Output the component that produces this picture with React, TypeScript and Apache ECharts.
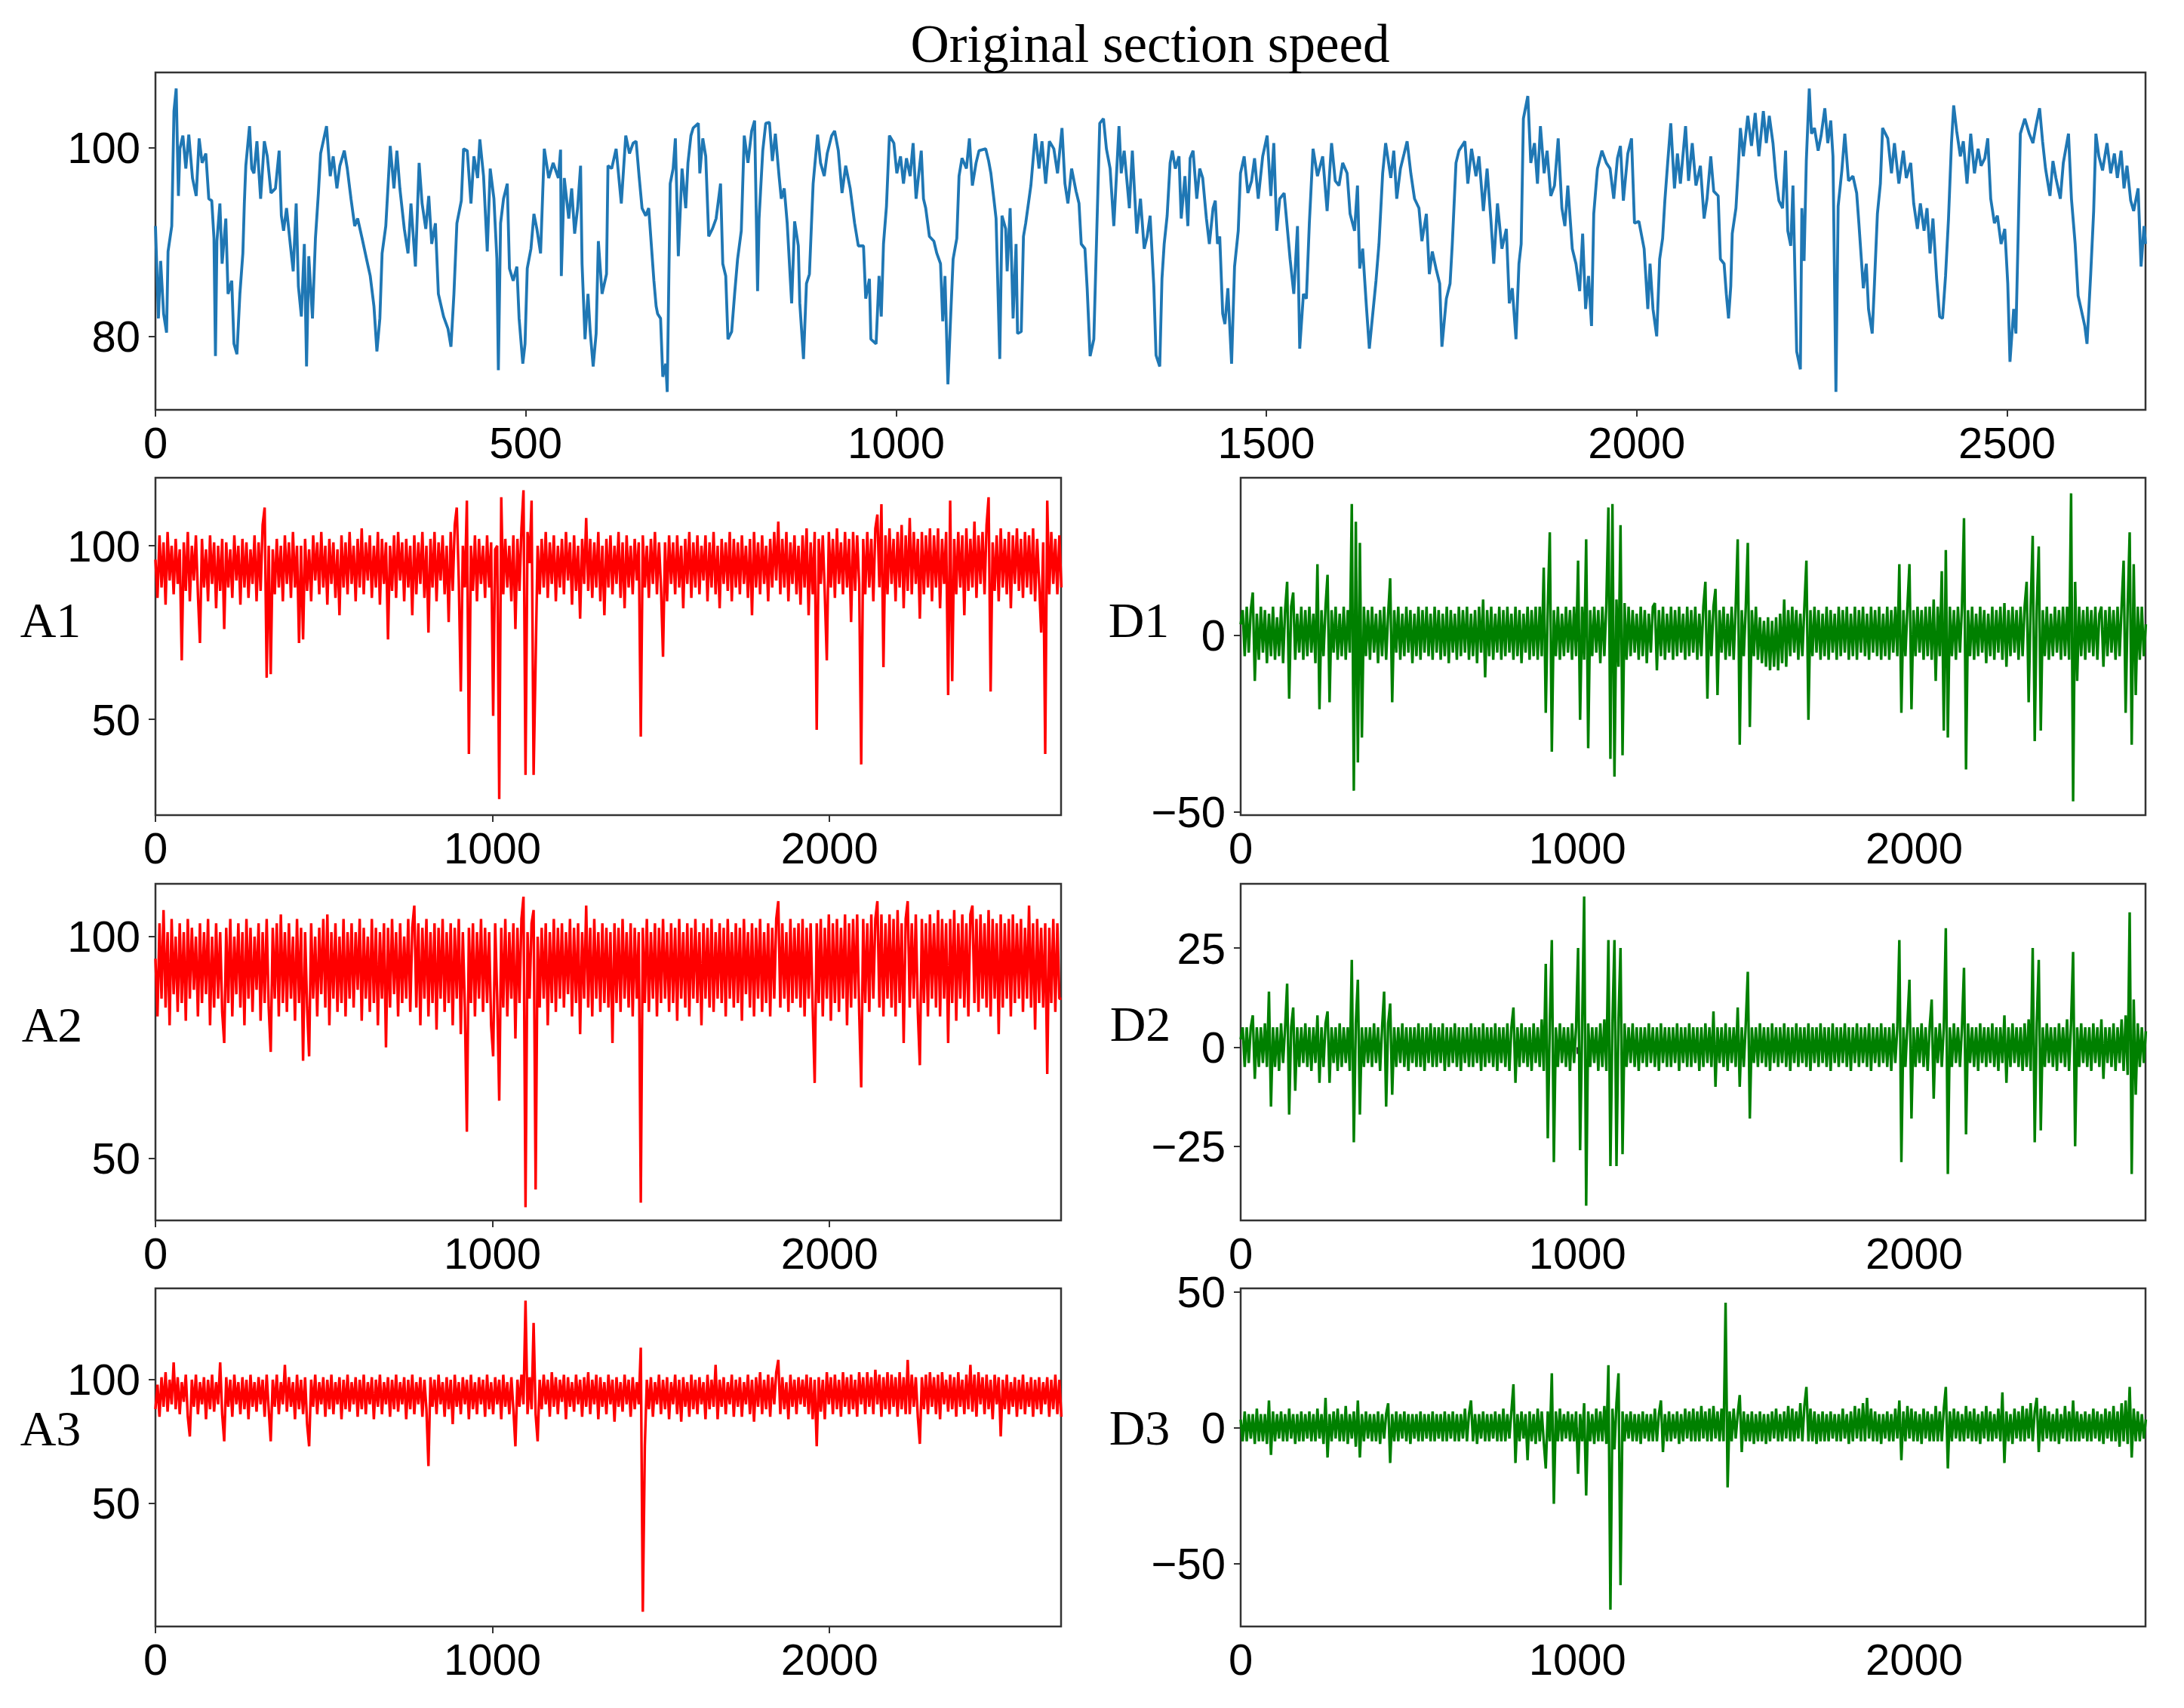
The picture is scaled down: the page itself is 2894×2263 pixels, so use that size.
import React, { useEffect, useRef } from 'react';
import * as echarts from 'echarts';

// ---------- data ----------
const STEP = 6; // sample spacing (index units) of the decomposition series

const speedPts: number[][] = [
[0,91.7],[4,81.9],[7,88.0],[11,82.4],[15,80.4],[17,89.0],[22,91.7],[25,103.9],[28,106.3],[31,94.9],[33,99.9],[37,101.3],[41,97.8],[45,101.4],[50,96.8],[55,94.9],[59,101.0],[63,98.4],[68,99.4],[72,94.6],[76,94.4],[79,90.4],[81,77.9],[83,90.1],[87,94.1],[90,87.7],[95,92.5],[98,84.5],[103,85.9],[106,79.2],[110,78.1],[114,84.5],[118,88.8],[120,94.1],[122,98.1],[127,102.3],[130,97.8],[133,97.3],[137,100.7],[142,94.6],[147,100.7],[151,99.1],[156,95.2],[162,95.7],[167,99.7],[170,92.8],[173,91.2],[177,93.6],[182,89.8],[186,86.9],[190,94.1],[193,85.3],[197,82.1],[201,89.8],[204,76.8],[207,88.5],[212,81.9],[216,90.4],[220,95.2],[223,99.4],[231,102.3],[236,97.0],[240,99.1],[245,95.7],[249,98.1],[255,99.7],[259,97.8],[264,94.6],[269,91.7],[273,92.5],[279,90.4],[285,88.2],[290,86.4],[295,83.2],[299,78.4],[303,81.9],[306,88.8],[311,91.7],[317,100.2],[322,95.7],[326,99.7],[330,95.7],[336,91.4],[341,88.8],[345,94.1],[351,87.4],[356,98.4],[360,94.1],[365,91.4],[369,94.9],[373,89.8],[378,92.0],[382,84.5],[389,82.1],[395,80.8],[399,78.9],[403,84.5],[407,92.0],[413,94.4],[416,99.9],[421,99.7],[426,94.1],[430,99.1],[435,96.8],[438,100.9],[443,97.0],[448,89.0],[452,97.8],[457,94.6],[461,88.2],[463,76.4],[466,92.0],[470,94.6],[475,96.2],[478,87.2],[483,85.9],[488,87.4],[491,81.9],[496,77.1],[499,79.2],[502,87.2],[507,89.3],[511,93.0],[515,91.4],[520,88.8],[525,99.9],[531,96.8],[537,98.4],[544,96.8],[547,99.8],[548,86.4],[552,96.8],[558,92.5],[562,95.7],[566,90.9],[570,93.6],[574,98.1],[576,87.7],[580,79.7],[584,84.5],[587,80.5],[591,76.8],[595,80.3],[598,90.1],[603,84.5],[609,86.6],[611,98.1],[616,97.8],[622,99.9],[629,94.1],[635,101.3],[640,99.4],[645,100.5],[649,100.7],[653,97.0],[657,93.6],[662,92.8],[666,93.6],[673,85.9],[676,83.2],
[678,82.4],[682,81.9],[685,75.7],[689,77.1],[691,74.1],[695,96.2],[699,97.8],[702,101.0],[706,88.5],[711,97.8],[716,93.6],[719,98.4],[723,101.3],[726,102.1],[733,102.6],[735,97.3],[739,101.0],[743,99.1],[747,90.6],[752,91.4],[757,92.5],[763,96.2],[766,87.7],[770,86.4],[773,79.7],[778,80.5],[782,84.5],[786,88.2],[791,91.2],[795,101.3],[800,98.4],[805,101.8],[809,102.9],[813,84.8],[815,92.5],[820,99.7],[824,102.6],[829,102.7],[833,98.6],[837,101.5],[842,97.0],[845,94.6],[849,95.7],[853,92.0],[859,83.5],[863,92.2],[868,89.6],[870,83.5],[875,77.6],[879,85.6],[883,86.6],[888,96.2],[894,101.4],[898,98.4],[903,97.0],[907,99.4],[913,101.3],[917,101.8],[922,99.7],[927,95.2],[932,98.1],[938,95.7],[944,92.0],[949,89.6],[956,89.6],[959,84.0],[964,86.1],[966,79.7],[973,79.2],[977,86.4],[980,82.1],[983,89.8],[987,93.8],[991,101.3],[997,100.5],[1001,97.3],[1006,99.1],[1010,96.2],[1014,98.9],[1019,97.0],[1023,100.5],[1027,94.6],[1034,99.7],[1037,94.6],[1040,93.6],[1045,90.6],[1051,90.1],[1055,88.8],[1060,87.7],[1063,81.6],[1066,86.4],[1070,74.9],[1073,80.8],[1077,88.2],[1082,90.4],[1085,97.0],[1089,98.9],[1095,97.8],[1099,101.0],[1103,96.0],[1108,98.4],[1112,99.7],[1121,99.9],[1125,98.6],[1128,97.3],[1132,94.6],[1135,92.5],[1140,77.6],[1143,92.8],[1148,91.4],[1150,86.9],[1154,93.6],[1158,81.9],[1162,89.8],[1164,80.3],[1169,80.5],[1172,90.6],[1175,92.0],[1182,96.0],[1188,101.5],[1193,97.8],[1197,100.7],[1202,96.2],[1207,100.7],[1213,99.9],[1218,97.3],[1224,102.1],[1228,96.2],[1232,94.1],[1237,97.8],[1243,95.4],[1247,94.1],[1250,89.8],[1255,89.3],[1258,85.1],[1262,77.9],[1267,79.7],[1271,91.2],[1275,102.6],[1280,103.1],[1284,99.9],[1289,97.8],[1294,91.7],[1301,102.3],[1304,97.3],[1308,99.7],[1315,93.6],[1319,99.7],[1325,90.9],[1330,94.6],[1335,89.3],[1339,90.6],[1343,92.8],[1348,85.3],
[1351,78.0],[1356,76.8],[1359,86.1],[1362,89.8],[1366,92.8],[1370,98.4],[1373,99.7],[1377,97.8],[1382,99.1],[1385,92.5],[1390,97.0],[1394,91.7],[1397,98.9],[1401,99.7],[1406,94.6],[1410,97.8],[1414,96.8],[1419,92.5],[1423,89.8],[1428,93.6],[1431,94.4],[1434,89.8],[1437,90.6],[1441,82.4],[1444,81.3],[1448,85.1],[1453,77.1],[1457,87.4],[1462,91.2],[1465,97.3],[1470,99.1],[1475,95.2],[1480,96.5],[1484,98.9],[1489,94.6],[1495,99.1],[1501,101.3],[1506,94.9],[1510,100.5],[1514,91.2],[1518,94.6],[1524,95.2],[1528,91.7],[1532,88.2],[1537,84.5],[1542,91.7],[1545,78.7],[1550,84.5],[1554,84.0],[1558,92.0],[1563,99.9],[1569,97.0],[1576,99.1],[1582,93.3],[1588,100.5],[1593,96.5],[1598,96.0],[1603,98.4],[1609,97.3],[1613,93.0],[1619,91.2],[1623,96.0],[1626,87.2],[1630,89.3],[1635,83.2],[1639,78.7],[1643,81.9],[1648,85.9],[1652,89.8],[1657,97.3],[1661,100.5],[1668,96.8],[1672,99.7],[1676,94.6],[1681,97.8],[1686,99.4],[1690,100.7],[1695,97.3],[1700,94.6],[1706,93.6],[1710,90.1],[1716,93.0],[1720,86.6],[1724,89.0],[1729,87.2],[1734,85.6],[1737,78.9],[1743,84.0],[1748,85.6],[1751,89.8],[1756,98.4],[1760,99.7],[1768,100.7],[1772,96.2],[1777,99.9],[1783,97.0],[1787,99.1],[1793,93.3],[1798,97.8],[1803,92.5],[1807,87.7],[1812,94.1],[1818,89.3],[1824,91.4],[1828,83.5],[1832,85.1],[1837,79.7],[1841,87.7],[1844,89.8],[1847,103.1],[1853,105.5],[1857,98.4],[1862,100.5],[1866,96.2],[1870,102.3],[1875,97.3],[1879,99.7],[1884,94.9],[1889,96.0],[1894,101.0],[1899,93.6],[1903,91.7],[1907,96.0],[1913,89.3],[1918,87.7],[1923,84.8],[1927,90.9],[1931,82.9],[1935,86.4],[1939,81.1],[1942,93.0],[1947,97.8],[1953,99.7],[1959,98.4],[1964,97.8],[1969,94.6],[1974,98.9],[1978,100.2],[1982,94.4],[1988,99.4],[1993,101.0],[1997,92.0],[2003,92.2],[2010,89.3],
[2015,82.9],[2018,87.7],[2022,82.9],[2027,80.0],[2031,88.2],[2035,90.4],[2038,94.4],[2042,98.6],[2046,102.6],[2051,95.7],[2055,99.4],[2059,96.2],[2066,102.3],[2070,96.5],[2075,100.5],[2080,96.0],[2086,98.1],[2091,92.5],[2095,94.6],[2100,99.1],[2104,95.4],[2110,94.9],[2113,88.2],[2118,87.7],[2121,84.5],[2124,81.9],[2127,85.3],[2129,90.9],[2134,93.6],[2137,97.6],[2140,102.1],[2144,99.1],[2150,103.4],[2155,100.2],[2160,103.7],[2165,99.1],[2171,103.9],[2175,100.5],[2179,103.4],[2184,100.5],[2188,96.8],[2192,94.4],[2197,93.6],[2201,99.7],[2204,91.2],[2208,89.6],[2211,96.0],[2216,78.4],[2221,76.5],[2223,93.6],[2226,88.0],[2229,98.6],[2233,106.3],[2236,101.5],[2240,102.1],[2245,99.7],[2249,101.3],[2254,104.2],[2258,100.5],[2262,102.9],[2265,99.1],[2269,74.1],[2272,93.8],[2277,97.6],[2281,101.5],[2286,96.5],[2292,97.0],[2297,95.2],[2300,92.0],[2306,85.1],[2310,87.7],[2313,82.9],[2318,80.3],[2321,85.6],[2325,93.0],[2329,96.2],[2332,102.1],[2339,101.0],[2344,97.3],[2348,100.5],[2354,96.2],[2360,99.7],[2364,96.8],[2370,98.4],[2374,94.1],[2379,91.4],[2383,94.1],[2388,91.2],[2392,93.6],[2396,88.8],[2400,92.5],[2405,86.1],[2409,82.1],[2413,81.9],[2417,86.4],[2421,92.5],[2425,100.5],[2428,104.5],[2432,101.8],[2437,99.1],[2441,100.7],[2446,96.2],[2451,101.5],[2456,97.3],[2461,99.9],[2465,98.1],[2470,98.9],[2474,101.0],[2478,94.6],[2483,92.0],[2487,92.8],[2492,89.8],[2497,91.4],[2501,85.6],[2504,77.3],[2509,82.9],[2512,80.3],[2515,90.6],[2518,101.5],[2524,103.1],[2530,101.5],[2535,100.5],[2539,102.3],[2544,104.2],[2548,100.7],[2552,97.8],[2558,94.9],[2562,98.6],[2566,96.8],[2572,94.6],[2576,98.4],[2583,101.5],[2587,94.6],[2592,89.8],[2596,84.3],[2600,82.9],[2605,81.1],[2608,79.2],[2613,86.6],[2617,93.3],[2620,101.5],[2624,99.1],[2629,97.6],[2635,100.5],[2640,97.3],[2645,99.4],[2649,96.8],[2654,99.7],[2658,95.7],[2662,98.1],[2667,94.4],[2671,93.3],[2677,95.7],[2681,87.4],[2685,91.7],[2687,89.8]
];

const a1 = [
96,85,103,88,101,83,104,90,100,86,102,89,99,67,101,87,104,84,100,90,103,86,72,102,88,99,84,103,89,101,82,100,
87,102,76,101,88,99,85,103,90,100,83,102,88,101,85,99,89,103,84,101,87,106,111,62,100,63,99,86,102,88,100,84,
103,89,101,85,104,88,100,72,100,73,102,87,99,84,103,90,101,86,104,88,100,83,102,89,101,85,99,80,103,88,101,86,
104,89,100,84,102,88,105,86,101,90,103,85,100,88,104,83,102,89,101,73,100,87,103,85,104,90,101,84,102,88,100,80,
103,86,101,89,104,85,100,75,102,88,104,84,101,90,103,86,100,78,104,87,106,111,90,58,100,88,113,40,100,87,103,84,
102,89,100,85,103,88,101,51,99,100,27,114,86,102,88,100,84,103,76,102,87,105,116,34,104,95,113,34,67,100,86,102,
88,104,85,101,89,103,84,100,88,102,86,104,90,101,83,103,87,100,79,102,89,108,87,102,85,101,88,104,84,100,80,102,
88,103,86,100,89,104,85,101,82,103,88,100,86,102,90,101,45,103,88,100,85,102,89,104,86,101,88,68,101,84,103,89,
101,86,103,88,100,82,102,89,104,85,101,88,103,86,100,90,103,84,101,88,104,86,100,82,102,89,101,87,104,84,102,88,
101,86,103,89,100,85,102,80,104,88,101,86,103,89,100,84,102,88,104,90,107,86,102,88,104,84,101,89,103,86,100,83,
103,88,105,80,101,86,104,47,102,89,103,86,67,104,88,102,85,105,89,101,86,104,88,102,78,104,87,103,89,37,102,86,
104,88,102,84,105,109,88,112,65,103,86,105,89,102,84,104,88,106,82,103,87,108,86,104,89,102,79,104,86,103,88,105,
84,103,88,105,82,102,89,104,57,113,61,102,86,104,88,103,80,105,87,102,88,107,85,103,89,104,86,106,114,58,101,87,
103,84,105,88,102,86,104,82,103,89,105,87,102,85,104,88,103,86,105,84,102,89,75,101,40,113,86,104,89,102,86,103,
88
];

const d1 = [
3,7,-6,8,-5,7,12,-13,6,-7,8,-5,7,-8,6,-6,8,-7,5,-6,8,-8,7,15,-18,8,12,-7,6,-5,8,-7,
7,-6,8,-5,6,-8,20,-21,7,-6,8,17,-19,7,-5,8,-7,6,-6,8,-7,7,-5,37,-44,32,-36,26,-29,8,-6,7,
-7,8,-5,6,-8,7,-6,8,-7,6,16,-19,7,-5,8,-7,6,-6,8,-5,7,-8,6,-6,8,-7,7,-5,8,-6,6,-7,
8,-5,7,-7,6,-6,8,-8,7,-5,6,-7,8,-6,7,-5,8,-7,6,-6,7,-8,8,-5,10,-12,7,-6,8,-7,6,-5,
8,-7,7,-6,8,-5,6,-7,8,-6,7,-8,6,-5,8,-7,7,-6,8,-7,8,-6,19,-22,8,29,-33,7,-6,8,-7,6,
-6,8,-5,7,-7,8,-6,21,-24,8,-7,27,-32,7,-6,8,-5,7,-8,8,-6,9,36,-35,37,-40,10,-9,31,-34,9,-7,
8,-6,7,-5,6,-7,8,-6,7,-8,6,-5,8,9,-10,7,-6,8,-7,6,-5,8,-7,7,-6,8,-5,6,-7,8,-6,7,
-5,8,-7,6,-6,8,15,-18,7,-6,8,13,-17,7,-5,8,-7,6,-6,8,-7,8,27,-31,7,-6,8,26,-26,7,-6,8,
-7,5,-8,4,-9,5,-10,4,-9,5,-10,6,-8,10,-9,7,-6,8,-5,7,-7,6,-6,8,21,-24,7,-6,8,-5,7,-7,
6,-6,8,-7,7,-5,6,-7,8,-6,7,-5,8,-7,6,-6,8,-7,7,-5,8,-6,6,-7,8,-5,7,-6,8,-7,6,-6,
8,-7,7,-5,8,-6,20,-22,7,-6,8,20,-21,7,-6,8,-5,7,-7,8,-6,8,-7,10,-13,8,-6,18,-27,24,-29,8,
-6,7,-7,8,-5,8,33,-38,7,-6,8,-7,6,-6,8,-5,7,-8,6,-6,8,-7,7,-5,8,-7,9,-9,7,-6,8,-5,
7,-7,8,-6,8,15,-19,8,28,-30,8,25,-27,7,-6,8,-7,6,-6,8,-5,7,-7,8,-6,8,-7,40,-47,15,-13,8,
-6,7,-7,8,-5,7,-6,8,-7,6,8,-9,7,-6,8,-5,7,-7,8,-6,8,21,-22,8,29,-31,20,-17,8,-7,8,-6,
3
];

const a2 = [
95,82,103,86,106,84,101,80,104,87,100,83,103,85,101,81,104,86,102,88,100,82,103,85,101,87,104,80,100,84,103,86,
101,83,76,102,85,104,82,100,87,103,84,101,80,104,86,102,83,100,88,103,81,101,85,104,84,74,102,86,103,82,105,85,
101,83,103,86,100,81,104,85,102,72,101,84,73,103,86,100,82,102,87,104,84,105,80,101,86,103,83,100,85,104,82,101,
86,103,84,101,88,104,81,102,86,100,83,104,85,102,80,101,86,103,75,102,84,104,87,101,82,103,85,100,86,104,83,102,
107,84,103,80,102,86,104,82,101,85,103,79,102,86,104,83,101,85,103,80,102,86,104,78,101,84,56,102,85,103,82,101,
86,104,83,102,85,101,80,73,103,86,63,102,84,104,82,101,86,103,77,102,85,104,109,39,101,86,103,106,43,100,84,102,
86,103,80,101,85,104,83,102,86,103,84,101,87,104,82,102,85,103,78,101,86,107,84,102,82,104,86,101,83,103,85,102,
84,101,76,103,85,102,83,104,86,101,84,103,82,102,86,101,40,102,85,104,83,101,86,103,82,102,85,104,86,101,83,103,
85,102,81,104,86,101,84,103,82,102,86,104,85,101,80,103,86,102,84,104,83,101,86,103,85,102,82,104,86,101,84,103,
85,102,81,104,87,101,84,103,82,102,86,104,83,101,85,103,82,102,86,104,108,84,103,86,101,83,104,85,102,86,103,84,
104,82,102,86,103,84,67,103,85,104,82,102,86,105,81,103,85,104,83,102,86,105,80,103,84,104,86,105,83,66,104,85,
103,83,105,86,104,108,84,105,82,103,86,105,84,104,82,106,85,103,76,104,108,84,103,86,105,83,71,104,85,103,82,105,
86,103,84,106,82,104,86,103,76,104,85,106,81,103,86,105,84,103,82,105,107,85,104,83,105,86,103,84,106,82,104,86,
103,78,105,84,103,86,104,82,105,85,103,86,104,83,102,86,107,84,103,79,104,85,102,84,103,69,102,85,104,83,103,86,
86
];

const d2 = [
2,5,-5,5,-4,5,8,-8,5,-5,5,-4,6,-5,14,-15,5,-5,5,-6,6,-4,5,16,-17,5,10,-11,5,-5,5,-4,
6,-5,5,-6,5,-4,8,-9,5,-5,6,9,-9,5,-4,5,-6,6,-5,5,-4,5,-6,22,-24,6,17,-17,5,-5,5,-4,
5,-5,6,-4,5,-6,5,14,-15,6,11,-12,5,-5,5,-4,6,-5,5,-6,5,-4,5,-5,6,-5,5,-6,5,-4,6,-5,
5,-5,5,-4,6,-6,5,-5,5,-4,6,-5,5,-6,5,-4,5,-5,6,-5,5,-4,5,-6,6,-5,5,-4,5,-5,6,-6,
5,-4,5,-5,6,-6,5,10,-9,5,-5,6,-4,5,-5,5,-6,6,-4,5,-5,7,-6,21,-23,6,27,-29,5,-5,6,-4,
5,-5,5,-6,6,-4,5,25,-26,5,38,-40,6,-5,5,-4,5,-6,6,-5,7,-6,27,-30,6,27,-30,7,25,-27,6,-5,
5,-4,6,-5,5,-6,5,-4,5,-5,6,-4,5,-5,5,-6,6,-4,5,-5,5,-5,5,-4,6,-6,5,-4,5,-5,6,-5,
5,-4,5,-6,5,-5,6,-4,5,-5,9,-10,5,-4,5,-5,6,-6,5,-4,5,-5,10,-10,5,-5,6,19,-18,5,-4,5,
-5,6,-4,5,-5,5,-6,6,-4,5,-5,5,-4,6,-5,5,-6,5,-4,6,-5,5,-4,5,-5,6,-6,5,-4,5,-5,6,
-4,5,-5,5,-6,6,-4,5,-5,5,-4,6,-5,5,-6,5,-4,6,-5,5,-4,5,-5,6,-6,5,-4,5,-5,6,-4,5,
-5,5,-6,6,-4,5,27,-29,5,-5,6,17,-18,5,-5,5,-4,6,-5,5,-6,5,12,-13,5,-4,6,-5,5,30,-32,5,
-5,6,-4,5,-5,5,20,-22,6,-4,5,-5,5,-6,6,-4,5,-5,5,-4,6,-5,5,-6,5,-4,8,-9,5,-5,6,-4,
5,-5,5,-6,6,-5,7,-6,25,-24,6,22,-21,5,-5,6,-4,5,-5,5,-6,6,-4,5,-5,7,-6,6,24,-25,5,-5,
6,-4,5,-5,5,-6,6,-4,5,-5,7,-8,5,-4,5,-5,6,-6,5,-4,7,-6,8,-7,34,-32,12,-12,6,-5,5,-4,
4
];

const a3 = [
88,98,85,101,89,103,87,100,90,107,88,101,86,99,91,102,85,77,100,89,102,86,99,90,101,84,100,88,102,87,99,90,
107,86,75,101,89,100,85,102,90,99,86,101,88,100,84,102,89,99,87,101,90,100,85,102,88,75,100,89,102,86,99,90,
106,87,101,89,99,84,102,88,100,86,101,82,73,100,89,102,86,99,90,101,85,100,88,102,86,99,90,101,84,100,88,102,
87,99,90,101,85,100,88,102,86,99,90,101,84,100,89,102,86,99,90,101,85,100,88,102,87,99,90,101,84,100,88,102,
86,99,90,101,85,100,88,65,101,89,100,86,102,90,99,85,101,88,100,82,102,89,99,86,101,90,100,84,102,88,99,86,
101,90,100,85,102,88,99,86,101,90,100,84,102,89,99,86,101,88,73,100,89,102,90,132,86,101,88,123,86,75,100,88,
102,90,100,85,103,89,101,86,100,91,102,84,101,89,99,87,102,90,100,85,101,89,103,86,100,90,102,84,101,89,99,86,
102,90,100,83,101,89,99,87,102,90,100,85,101,88,99,90,113,6,73,100,88,101,85,99,90,102,86,100,88,101,84,99,
90,102,86,100,83,101,89,99,85,102,88,100,86,101,90,99,84,102,88,100,89,106,84,100,89,101,86,99,90,102,85,100,
89,101,85,99,90,102,86,100,83,101,89,103,86,100,88,102,85,101,90,103,108,86,101,88,99,84,102,89,100,86,101,90,
100,89,102,86,101,84,100,73,101,87,100,84,103,90,101,86,102,88,100,85,103,89,101,86,102,88,100,85,103,90,101,86,
103,89,101,86,104,90,102,85,101,88,103,86,102,89,101,85,103,88,101,86,108,86,102,89,101,85,74,101,88,102,86,103,
89,101,86,102,84,103,90,100,87,102,88,101,85,103,89,100,86,102,88,106,87,102,85,103,90,101,86,102,88,100,84,102,
90,101,77,100,88,102,86,99,89,101,85,100,88,102,86,99,89,101,85,100,88,101,86,99,90,101,85,100,88,102,86,100,
85
];

const d3 = [
3,-5,6,-5,5,-4,5,-6,7,-5,5,-5,5,-6,10,-10,6,-5,5,-4,6,-5,5,-5,7,-4,5,-6,5,-5,6,-5,
5,-4,6,-5,5,-5,7,-4,5,-6,11,-11,5,-5,6,-4,7,-5,5,-5,8,-6,5,-4,6,-7,10,-11,5,-5,6,-4,
5,-5,5,-5,6,-6,5,-4,5,9,-13,5,-5,6,-5,5,-4,6,-5,5,-6,5,-4,5,-5,6,-5,5,-4,5,-5,6,
-5,5,-4,5,-5,6,-5,5,-4,6,-5,5,-5,5,-4,7,-5,5,10,-5,5,-6,5,-4,6,-5,5,-5,5,-4,6,-5,
5,-5,7,-5,5,-4,6,16,-13,5,-5,6,-4,5,-12,6,-5,5,-6,7,-5,6,-5,-15,6,-5,20,-28,6,-5,7,-5,
5,-4,6,-5,5,-5,6,-17,5,-5,9,-25,6,-5,5,-6,7,-5,6,-5,8,-6,23,-67,7,-8,9,20,-58,6,-5,5,
-4,6,-5,5,-5,5,-6,6,-4,5,-5,5,-5,7,-5,5,10,-9,5,-5,6,-5,5,-4,6,-6,5,-5,7,-4,6,-5,
7,-5,6,-5,8,-4,6,-5,7,-5,8,-4,6,-5,7,-5,46,-22,6,-5,7,-4,5,12,-9,6,-5,5,-5,6,-6,5,
-5,6,-5,5,-6,5,-5,6,-4,7,-5,5,-5,6,-4,8,-5,7,-5,6,-4,9,-5,8,15,-5,7,-5,6,-6,5,-5,
6,-5,5,-5,6,-4,5,-5,5,-5,7,-4,5,-6,6,-5,8,-4,7,-5,9,-5,11,-4,7,-5,6,-5,5,-6,5,-4,
6,-5,5,-5,7,-4,10,-12,6,-5,8,-4,7,-5,6,-5,5,-6,7,-4,6,-5,5,-5,8,-5,6,-5,7,15,-15,6,
-5,7,-4,6,-5,5,-5,8,-4,6,-5,7,-5,5,-6,6,-4,8,-5,6,-5,5,-4,7,-5,13,-13,6,-5,5,-6,7,
-4,6,-5,8,-5,7,-4,9,-5,6,11,-9,7,-5,8,-4,6,-5,5,-5,7,-6,5,-4,8,-5,6,-5,10,-5,6,-5,
5,-4,6,-5,5,-5,7,-4,6,-5,5,-6,7,-4,6,-5,8,-5,6,-7,9,-5,10,-6,15,-11,7,-5,6,-5,5,-4,
3
];

const xTicksTop = [0, 500, 1000, 1500, 2000, 2500];
const xTicksSub = [0, 1000, 2000];
const yTicksTop = [80, 100];
const yTicksA1 = [50, 100];
const yTicksD1 = [-50, 0];
const yTicksA2 = [50, 100];
const yTicksD2 = [-25, 0, 25];
const yTicksA3 = [50, 100];
const yTicksD3 = [-50, 0, 50];

const TITLE = 'Original section speed';
const panelNames = ['A1', 'D1', 'A2', 'D2', 'A3', 'D3'];

// ---------- chart ----------
const X_MAX = 2687;
const LABEL_FONT = 'Liberation Sans';
const SERIF = 'Liberation Serif';

function toPairs(arr: number[]) {
  return arr.map((v, i) => [i * STEP, v]);
}

export default function App() {
  const ref = useRef<HTMLDivElement>(null);

  useEffect(() => {
    if (!ref.current) return;
    const chart = echarts.init(ref.current, undefined, { renderer: 'svg' });

    const grids = [
      { left: 206, top: 96, width: 2637, height: 447 },
      { left: 206, top: 633, width: 1200, height: 447 },
      { left: 1644, top: 633, width: 1199, height: 447 },
      { left: 206, top: 1171, width: 1200, height: 446 },
      { left: 1644, top: 1171, width: 1199, height: 446 },
      { left: 206, top: 1707, width: 1200, height: 448 },
      { left: 1644, top: 1707, width: 1199, height: 448 },
    ];
    const yRanges = [
      [72.2, 108], [22.4, 119.6], [-50.9, 44.4], [36, 111.9], [-43.7, 41.2], [0, 137], [-73.2, 51.3],
    ];
    const yTicks = [yTicksTop, yTicksA1, yTicksD1, yTicksA2, yTicksD2, yTicksA3, yTicksD3];
    const series = [speedPts, toPairs(a1), toPairs(d1), toPairs(a2), toPairs(d2), toPairs(a3), toPairs(d3)];
    const colors = ['#1f77b4', '#ff0000', '#008000', '#ff0000', '#008000', '#ff0000', '#008000'];

    const tickStyle = { color: '#333', width: 2 };
    const labelStyle = { fontSize: 58, fontFamily: LABEL_FONT, color: '#000' };
    const fmt = (v: number) => String(v).replace('-', '\u2212');

    const labelPos = [
      [67, 821], [1509, 821], [69, 1357], [1511, 1356], [67, 1892], [1510, 1891],
    ];

    const option: any = {
      animation: false,
      backgroundColor: '#fff',
      grid: grids.map((g) => ({ ...g, show: true, borderColor: '#333', borderWidth: 2.5, backgroundColor: 'transparent' })),
      xAxis: grids.map((_, i) => ({
        gridIndex: i,
        type: 'value',
        min: 0,
        max: X_MAX,
        axisLine: { show: false },
        splitLine: { show: false },
        axisTick: { show: true, length: 9, lineStyle: tickStyle, customValues: i === 0 ? xTicksTop : xTicksSub },
        axisLabel: { show: true, margin: 14, customValues: i === 0 ? xTicksTop : xTicksSub, formatter: fmt, ...labelStyle },
      })),
      yAxis: grids.map((_, i) => ({
        gridIndex: i,
        type: 'value',
        min: yRanges[i][0],
        max: yRanges[i][1],
        axisLine: { show: false },
        splitLine: { show: false },
        axisTick: { show: true, length: 9, lineStyle: tickStyle, customValues: yTicks[i] },
        axisLabel: { show: true, margin: 20, customValues: yTicks[i], formatter: fmt, ...labelStyle },
      })),
      series: series.map((d, i) => ({
        type: 'line',
        xAxisIndex: i,
        yAxisIndex: i,
        data: d,
        showSymbol: false,
        symbol: 'none',
        lineStyle: { color: colors[i], width: i === 0 ? 3.8 : 3.4, join: 'bevel' },
        clip: true,
        silent: true,
      })),
      graphic: [
        {
          type: 'text', x: 1524, y: 58,
          style: { text: TITLE, font: `71px "${SERIF}"`, fill: '#000', align: 'center', verticalAlign: 'middle' },
        },
        ...panelNames.map((n, i) => ({
          type: 'text', x: labelPos[i][0], y: labelPos[i][1],
          style: { text: n, font: `66px "${SERIF}"`, fill: '#000', align: 'center', verticalAlign: 'middle' },
        })),
      ],
    };

    chart.setOption(option);
    return () => chart.dispose();
  }, []);

  return (
    <div
      ref={ref}
      style={{ position: 'fixed', left: 0, top: 0, width: 2894, height: 2263, background: '#fff' }}
    />
  );
}
